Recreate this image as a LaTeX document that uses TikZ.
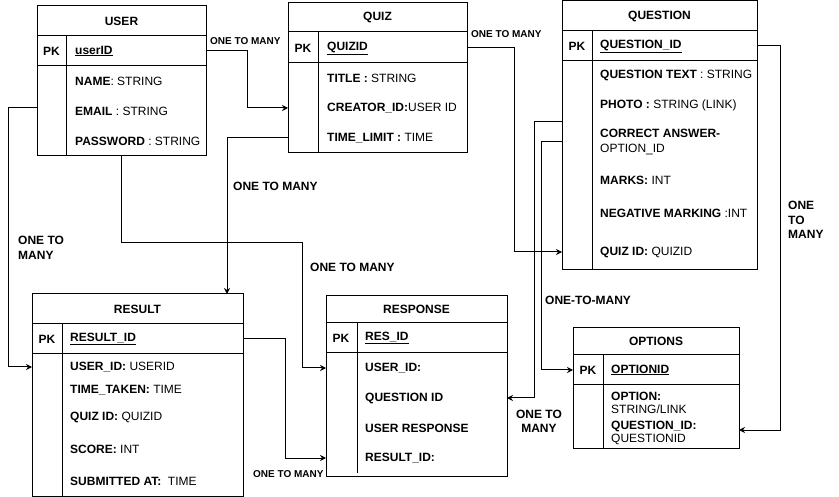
\documentclass[tikz,border=0pt]{standalone}
\usepackage{fontspec}
\setmainfont{Liberation Sans}
\usetikzlibrary{arrows.meta}
\begin{document}
\begin{tikzpicture}[x=1pt,y=-1pt,
  cell/.style={draw, line width=1pt, inner sep=0pt, outer sep=0pt},
  ttl/.style={font=\fontsize{12}{14}\selectfont\bfseries},
  fld/.style={anchor=west, inner sep=0pt, font=\fontsize{12}{14}\selectfont},
  fldtwo/.style={anchor=west, inner sep=0pt, align=left, font=\fontsize{12}{15}\selectfont},
  fldopt/.style={anchor=west, inner sep=0pt, align=left, font=\fontsize{12}{13}\selectfont},
  pklbl/.style={inner sep=0pt, font=\fontsize{12}{14}\selectfont\bfseries},
  div/.style={draw, line width=1pt},
  conn/.style={draw, line width=1pt, -{Stealth[length=6pt,width=6pt]}},
  rel/.style={inner sep=0pt, font=\fontsize{12}{14.5}\selectfont\bfseries},
  rels/.style={inner sep=0pt, anchor=west, font=\fontsize{10}{12}\selectfont\bfseries}]
\useasboundingbox (0,0) rectangle (839,497);

% ---------- USER ----------
\node[cell, ttl, minimum width=169pt, minimum height=30pt] (userT) at (121.5,21) {USER};
\node[cell, minimum width=169pt, minimum height=30pt] (userK) at (121.5,51) {};
\node[cell, minimum width=169pt, minimum height=90pt] (userB) at (121.5,111) {};
\draw[div] ([xshift=29pt]userK.north west) -- ([xshift=29pt]userB.south west);
\node[pklbl] (userPK) at (51.5,51) {PK};
\node[fld] (userId) at (75,51) {\textbf{\underline{userID}}};
\node[fld] (userName) at (75,81) {\textbf{NAME}: STRING};
\node[fld] (userEmail) at (75,111) {\textbf{EMAIL} : STRING};
\node[fld] (userPass) at (75,141) {\textbf{PASSWORD} : STRING};

% ---------- QUIZ ----------
\node[cell, ttl, minimum width=179pt, minimum height=29pt] (quizT) at (377.5,17.5) {QUIZ};
\node[cell, minimum width=179pt, minimum height=31pt] (quizK) at (377.5,47.5) {};
\node[cell, minimum width=179pt, minimum height=90pt] (quizB) at (377.5,108) {};
\draw[div] ([xshift=30pt]quizK.north west) -- ([xshift=30pt]quizB.south west);
\node[pklbl] (quizPK) at (303,48) {PK};
\node[fld] (quizId) at (327,48) {\textbf{\underline{QUIZID}}};
\node[fld] (quizTitle) at (327,78) {\textbf{TITLE :} STRING};
\node[fld] (quizCreator) at (327,108) {\textbf{CREATOR\_ID:}USER ID};
\node[fld] (quizTime) at (327,138) {\textbf{TIME\_LIMIT :} TIME};

% ---------- QUESTION ----------
\node[cell, ttl, minimum width=195pt, minimum height=30pt] (questT) at (659.5,16) {QUESTION};
\node[cell, minimum width=195pt, minimum height=30pt] (questK) at (659.5,46) {};
\node[cell, minimum width=195pt, minimum height=209pt] (questB) at (659.5,165.5) {};
\draw[div] ([xshift=30pt]questK.north west) -- ([xshift=30pt]questB.south west);
\node[pklbl] (questPK) at (577,46) {PK};
\node[fld] (questId) at (600,46) {\textbf{\underline{QUESTION\_ID}}};
\node[fld] (questText) at (600,75) {\textbf{QUESTION TEXT} : STRING};
\node[fld] (questPhoto) at (600,105) {\textbf{PHOTO :} STRING (LINK)};
\node[fldtwo] (questCorrect) at (600,142.5) {\textbf{CORRECT ANSWER-}\\OPTION\_ID};
\node[fld] (questMarks) at (600,180) {\textbf{MARKS:} INT};
\node[fld] (questNeg) at (600,213) {\textbf{NEGATIVE MARKING} :INT};
\node[fld] (questQuiz) at (600,252) {\textbf{QUIZ ID:} QUIZID};

% ---------- RESULT ----------
\node[cell, ttl, minimum width=211pt, minimum height=30pt] (resT) at (137.5,309) {RESULT};
\node[cell, minimum width=211pt, minimum height=30pt] (resK) at (137.5,339) {};
\node[cell, minimum width=211pt, minimum height=142pt] (resB) at (137.5,425) {};
\draw[div] ([xshift=30pt]resK.north west) -- ([xshift=30pt]resB.south west);
\node[pklbl] (resPK) at (47,339) {PK};
\node[fld] (resId) at (70,339) {\textbf{\underline{RESULT\_ID}}};
\node[fld] (resUser) at (70,367) {\textbf{USER\_ID:} USERID};
\node[fld] (resTime) at (70,390) {\textbf{TIME\_TAKEN:} TIME};
\node[fld] (resQuiz) at (70,417) {\textbf{QUIZ ID:} QUIZID};
\node[fld] (resScore) at (70,449) {\textbf{SCORE:} INT};
\node[fld] (resSub) at (70,481) {\textbf{SUBMITTED AT:}\ \ TIME};

% ---------- RESPONSE ----------
\node[cell, ttl, minimum width=181pt, minimum height=27pt] (respT) at (416.5,309.5) {RESPONSE};
\node[cell, minimum width=181pt, minimum height=30pt] (respK) at (416.5,338) {};
\node[cell, minimum width=181pt, minimum height=123pt] (respB) at (416.5,414.5) {};
\draw[div] ([xshift=31pt]respK.north west) -- ([xshift=31pt,yshift=3pt]respB.south west);
\node[pklbl] (respPK) at (341,338) {PK};
\node[fld] (respId) at (365,338) {\textbf{\underline{RES\_ID}}};
\node[fld] (respUser) at (365,368) {\textbf{USER\_ID:}};
\node[fld] (respQuestion) at (365,398) {\textbf{QUESTION ID}};
\node[fld] (respResp) at (365,428) {\textbf{USER RESPONSE}};
\node[fld] (respResult) at (365,458) {\textbf{RESULT\_ID:}};

% ---------- OPTIONS ----------
\node[cell, ttl, minimum width=166pt, minimum height=27pt] (optT) at (656,341.5) {OPTIONS};
\node[cell, minimum width=166pt, minimum height=30pt] (optK) at (656,370) {};
\node[cell, minimum width=166pt, minimum height=63pt] (optB) at (656,416.5) {};
\draw[div] ([xshift=30pt]optK.north west) -- ([xshift=30pt]optB.south west);
\node[pklbl] (optPK) at (588,370) {PK};
\node[fld] (optId) at (611,370) {\textbf{\underline{OPTIONID}}};
\node[fldopt] (optOption) at (611,402.5) {\textbf{OPTION:}\\STRING/LINK};
\node[fldopt] (optQuest) at (611,432.5) {\textbf{QUESTION\_ID:}\\QUESTIONID};

% ---------- connectors ----------
\draw[conn] (userK.east) -- ++(41,0) |- (quizB.west |- quizCreator);
\draw[conn] (quizB.west |- quizTime) -| ([xshift=89.5pt]resT.north);
\draw[conn] (userB.south) |- (302,243) |- (respB.west |- respUser);
\draw[conn] (userB.west |- 0,108) -- (8,108) |- (resB.west |- resUser);
\draw[conn] (resK.east) -- ++(42,0) |- (respB.west |- respResult);
\draw[conn] (quizK.east) -- ++(47,0) |- (questB.west |- questQuiz);
\draw[conn] (questB.west |- 0,122) -- (534,122) |- (respB.east |- respQuestion);
\draw[conn] (questB.west |- 0,142) -- (541,142) |- (optK.west);
\draw[conn] (questK.east) -- (780,46) |- (optB.east |- 0,430);

% ---------- labels ----------
\node[rels] (l1) at (210,41) {ONE TO MANY};
\node[rel, anchor=west] (l2) at (233,186) {ONE TO MANY};
\node[rel, anchor=west] (l3) at (310,267) {ONE TO MANY};
\node[rel, anchor=west, align=left] (l4) at (18,248) {ONE TO\\MANY};
\node[rels] (l5) at (253,474) {ONE TO MANY};
\node[rels] (l6) at (471,34) {ONE TO MANY};
\node[rel, align=center] (l7) at (539,421.5) {ONE TO\\MANY};
\node[rel, anchor=west] (l8) at (545,300) {ONE-TO-MANY};
\node[rel, anchor=west, align=left] (l9) at (788,220) {ONE\\TO\\MANY};
\end{tikzpicture}
\end{document}
